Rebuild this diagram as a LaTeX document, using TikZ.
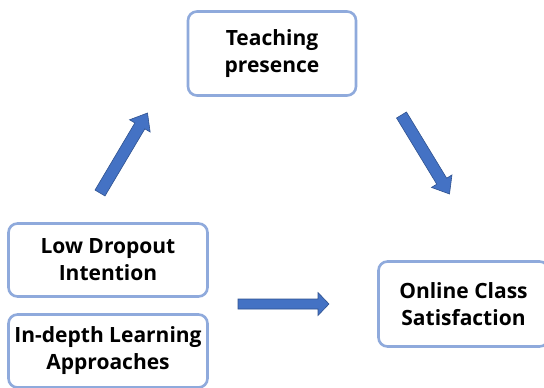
\documentclass[tikz,border=0pt]{standalone}
\usepackage{fontspec}
\setmainfont{Open Sans}
\usepackage{tikz}
\usetikzlibrary{calc}
\definecolor{boxline}{HTML}{8FAADC}
\definecolor{arrfill}{HTML}{4472C4}
\definecolor{arredge}{HTML}{2F528F}
\tikzstyle{factor}=[draw=boxline, line width=2.6pt, rounded corners=9pt, fill=white, align=center, inner sep=0pt, font=\fontsize{21}{27}\selectfont\bfseries]
\tikzstyle{blockarr}=[fill=arrfill, draw=arredge, line width=.6pt, line join=miter]
% tail, tip, half shaft, half head, head length
\newcommand{\bigarrow}[5]{%
  \coordinate (hb) at ($(#2)!#5!(#1)$);
  \draw[blockarr] ($(#1)!#3!90:(#2)$) -- ($(hb)!#3!90:(#2)$) -- ($(hb)!#4!90:(#2)$) -- (#2)
    -- ($(hb)!#4!-90:(#2)$) -- ($(hb)!#3!-90:(#2)$) -- ($(#1)!#3!-90:(#2)$) -- cycle;}

\begin{document}
\begin{tikzpicture}[x=1pt, y=-1pt]
    \useasboundingbox (0,0) rectangle (544,388);

    \node[factor, minimum width=168pt, minimum height=84pt] (teach) at (272,53.5) {Teaching\\presence};
    \node[factor, minimum width=199pt, minimum height=73pt] (drop) at (108,260) {Low Dropout\\Intention};
    \node[factor, minimum width=199pt, minimum height=73pt] (deep) at (108,351) {In-depth Learning\\Approaches};
    \node[factor, minimum width=170pt, minimum height=85pt] (online) at (463.5,304) {Online Class\\Satisfaction};

    \coordinate (up-s) at (100,193);
    \coordinate (up-e) at (147.5,113);
    \coordinate (dn-s) at (401.5,115);
    \coordinate (dn-e) at (449.5,194);
    \coordinate (rt-s) at (238,304);
    \coordinate (rt-e) at (329,304);

    \bigarrow{up-s}{up-e}{5.8pt}{12pt}{15pt}
    \bigarrow{dn-s}{dn-e}{5.8pt}{12pt}{15pt}
    \bigarrow{rt-s}{rt-e}{5pt}{11.5pt}{11pt}
  \end{tikzpicture}
\end{document}
